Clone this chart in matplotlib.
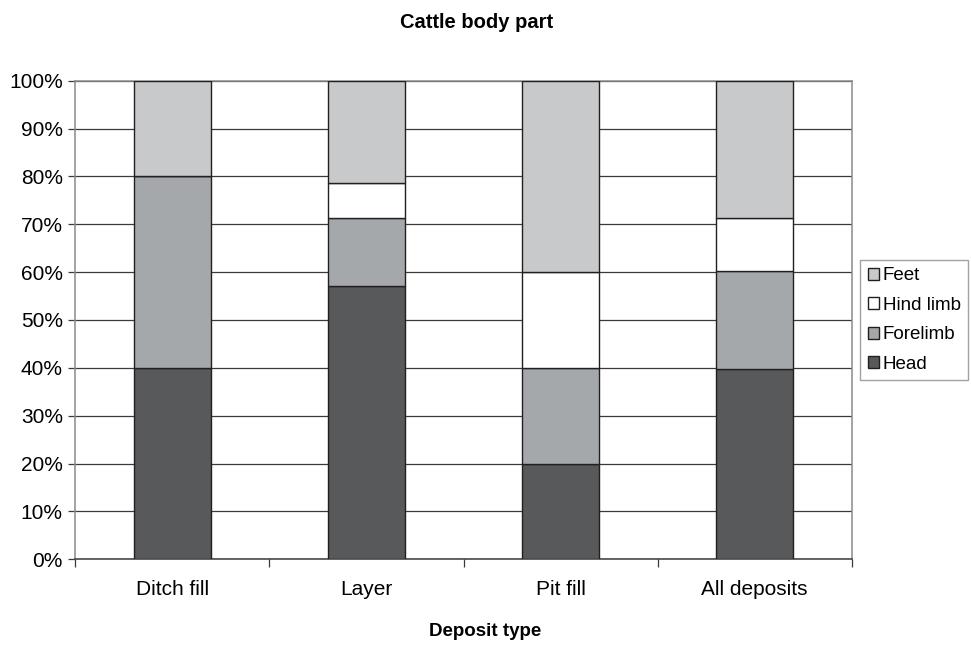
import numpy as np
import matplotlib.pyplot as plt

plt.rcParams['font.family'] = ['Liberation Sans', 'DejaVu Sans']

# percentage of cattle bones by body part in each deposit type
deposits = ['Ditch fill', 'Layer', 'Pit fill', 'All deposits']
head = [40.0, 57.1, 20.0, 39.7]
forelimb = [40.0, 14.3, 20.0, 20.6]
hind_limb = [0.0, 7.2, 20.0, 11.1]
feet = [20.0, 21.4, 40.0, 28.6]

parts = ['Head', 'Forelimb', 'Hind limb', 'Feet']
series = [head, forelimb, hind_limb, feet]
colours = ['#58595b', '#a5a8aa', '#ffffff', '#c8c9cb']

fig = plt.figure(figsize=(9.71, 6.46), dpi=100)
ax = fig.add_axes([0.0776, 0.1342, 0.7995, 0.7409])

x = np.arange(len(deposits))
bottom = np.zeros(len(deposits))
bars = []
for name, vals, col in zip(parts, series, colours):
    b = ax.bar(x, vals, width=0.4, bottom=bottom, color=col,
               edgecolor='#231f20', linewidth=1.0, label=name, zorder=3)
    bars.append(b)
    bottom += np.array(vals)

ax.set_xlim(-0.5, len(deposits) - 0.5)
ax.set_ylim(0, 100)
ax.set_yticks(np.arange(0, 101, 10))
ax.set_yticklabels([f'{v}%' for v in range(0, 101, 10)], fontsize=15)
ax.yaxis.grid(True, color='#3a3a3a', linewidth=0.9, zorder=0)
ax.set_axisbelow(True)

# category labels centred, ticks on the boundaries
ax.set_xticks(x)
ax.set_xticklabels(deposits, fontsize=15)
ax.tick_params(axis='x', length=0, pad=15)
ax.set_xticks(np.arange(-0.5, len(deposits)), minor=True)
ax.tick_params(axis='x', which='minor', length=6, color='#3a3a3a', width=0.9)
ax.tick_params(axis='y', length=5, color='#3a3a3a', width=0.9, pad=4)

for side in ['top', 'right', 'left']:
    ax.spines[side].set_color('#8a8a8a')
    ax.spines[side].set_linewidth(1.1)
ax.spines['bottom'].set_color('#3a3a3a')
ax.spines['bottom'].set_linewidth(1.1)

fig.text(476.5 / 971, 1 - 22 / 646, 'Cattle body part', ha='center',
         va='center', fontsize=14.5, fontweight='bold')
fig.text(0.5, 1 - 632 / 646, 'Deposit type', ha='center', va='center',
         fontsize=13.5, fontweight='bold')

handles = [b[0] for b in bars][::-1]
leg = fig.legend(handles, parts[::-1], loc='upper left',
                 bbox_to_anchor=(860 / 971, 1 - 260 / 646), frameon=True,
                 fancybox=False, edgecolor='#8a8a8a', fontsize=13.5,
                 handlelength=0.6, handleheight=0.6, handletextpad=0.2,
                 labelspacing=0.66, borderpad=0.4, borderaxespad=0)
leg.get_frame().set_linewidth(1.0)

fig.savefig('out.png', dpi=100)
